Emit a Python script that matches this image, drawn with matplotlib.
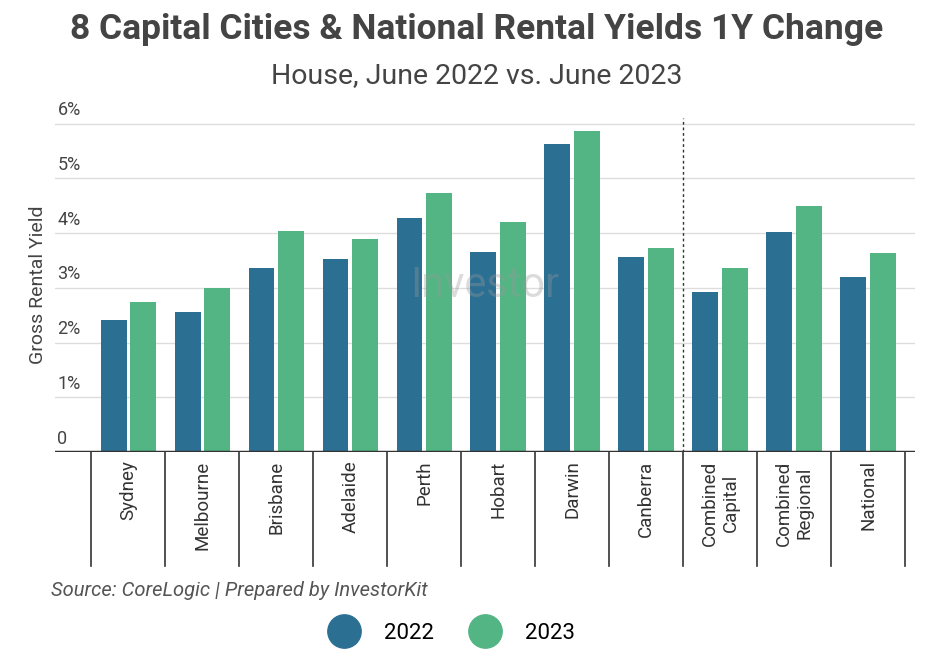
import matplotlib
matplotlib.use("Agg")
import matplotlib.pyplot as plt
import matplotlib.transforms as mtransforms
from matplotlib.lines import Line2D

plt.rcParams['font.family'] = ['Roboto', 'DejaVu Sans']

categories = ["Sydney", "Melbourne", "Brisbane", "Adelaide", "Perth", "Hobart", "Darwin",
              "Canberra", "Combined\nCapital", "Combined\nRegional", "National"]
y2022 = [2.41, 2.55, 3.36, 3.52, 4.27, 3.65, 5.62, 3.56, 2.92, 4.01, 3.19]
y2023 = [2.74, 3.00, 4.03, 3.90, 4.74, 4.20, 5.86, 3.72, 3.36, 4.49, 3.63]
yticks = [0, 1, 2, 3, 4, 5, 6]
ytick_labels = ["0", "1%", "2%", "3%", "4%", "5%", "6%"]
c22, c23 = "#2b6f93", "#53b584"

fig = plt.figure(figsize=(9.35, 6.56), dpi=100)
ax = fig.add_axes([0.059, 0.311, 0.92, 0.509])
x = list(range(len(categories)))
w = 0.35
ax.bar([i - 0.2 for i in x], y2022, width=w, color=c22, zorder=3)
ax.bar([i + 0.2 for i in x], y2023, width=w, color=c23, zorder=3)
ax.set_xlim(-0.99, 10.64)
ax.set_ylim(0, 6.1)
for s in ax.spines.values():
    s.set_visible(False)
ax.axhline(0, color="#333333", lw=2.5, zorder=4)
for t in yticks[1:]:
    ax.axhline(t, color="#dddddd", lw=1, zorder=1)
ax.set_yticks([])
ax.set_xticks([])
for t, l in zip(yticks, ytick_labels):
    ax.text(-0.96, t + 0.08, l, fontsize=13, color="#444444", va="bottom", ha="left")
ax.set_ylabel("Gross Rental Yield", fontsize=14, color="#444444", labelpad=6)
ax.axvline(7.5, color="#333333", ls=(0, (2, 2)), lw=1, zorder=2)
trans = mtransforms.blended_transform_factory(ax.transData, ax.transAxes)
for i in range(len(categories) + 1):
    ax.plot([i - 0.5, i - 0.5], [0, -0.34], transform=trans, color="#333333", lw=1.2, clip_on=False)
for i, c in enumerate(categories):
    ax.text(i, -0.025, c, transform=trans, rotation=90, ha="center", va="top", fontsize=13.5, color="#333333")
ax.text(0.5, 0.5, "Investor", transform=ax.transAxes, fontsize=30, color="#999999", alpha=0.35,
        ha="center", va="center", zorder=5)

fig.text(0.51, 0.955, "8 Capital Cities & National Rental Yields 1Y Change", fontsize=25.5,
         fontweight="bold", color="#444444", ha="center", va="center")
fig.text(0.51, 0.885, "House, June 2022 vs. June 2023", fontsize=20.5, color="#444444",
         ha="center", va="center")
fig.text(0.055, 0.10, "Source: CoreLogic | Prepared by InvestorKit", fontsize=14.5, style="italic",
         color="#555555", ha="left", va="center")
handles = [Line2D([], [], marker="o", ls="", ms=24, color=c22),
           Line2D([], [], marker="o", ls="", ms=24, color=c23)]
fig.legend(handles, ["2022", "2023"], loc="center", bbox_to_anchor=(0.48, 0.035), ncol=2,
           frameon=False, fontsize=16, handletextpad=0.8, columnspacing=1.3)
fig.savefig("out.png", dpi=100)
